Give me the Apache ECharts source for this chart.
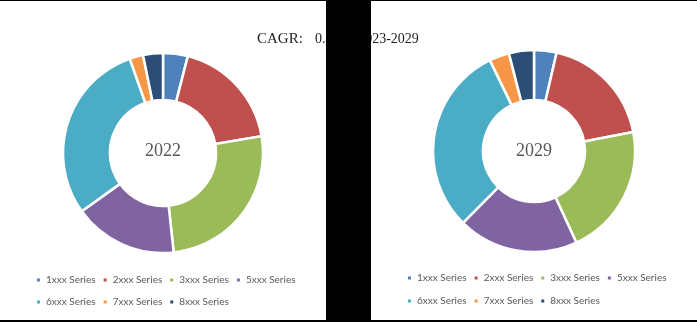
<!DOCTYPE html>
<html>
<head>
<meta charset="utf-8">
<script src="https://cdn.jsdelivr.net/npm/echarts@6/dist/echarts.min.js"></script>
<style>
html,body{margin:0;padding:0;background:#fff;}
#c{width:697px;height:322px;}
</style>
</head>
<body>
<div id="c"></div>
<script>
const categories = ['1xxx Series','2xxx Series','3xxx Series','5xxx Series','6xxx Series','7xxx Series','8xxx Series'];
const values2022 = [4.0, 18.3, 26.0, 16.8, 29.5, 2.2, 3.2];
const values2029 = [3.6, 18.4, 21.1, 19.3, 30.4, 3.2, 4.0];
const colors = ['#4F81BD','#C0504D','#9BBB59','#8064A2','#4BACC6','#F79646','#2C4D75'];
const yearLabels = ['2022','2029'];
const cagrLabel = 'CAGR:';
const cagrValue = '0.45%, 2023-2029';

const chart = echarts.init(document.getElementById('c'), null, {renderer:'canvas'});

function pieSeries(vals, center, radius){
  return {
    type:'pie',
    center: center,
    radius: radius,
    startAngle: 90,
    clockwise: true,
    avoidLabelOverlap:false,
    label:{show:false},
    labelLine:{show:false},
    emphasis:{disabled:true},
    itemStyle:{borderColor:'#fff', borderWidth:2.5},
    data: categories.map((n,i)=>({name:n, value:vals[i]}))
  };
}
const legText = {color:'#595959', fontSize:10, fontFamily:'Lato'};
function leg(left, top, names){
  return {left:left, top:top, orient:'horizontal', itemWidth:5, itemHeight:5, itemGap:6,
    icon:'rect', selectedMode:false, textStyle:legText, data:names, padding:0};
}
const row1 = categories.slice(0,4), row2 = categories.slice(4);

chart.setOption({
  animation:false,
  color: colors,
  legend:[
    leg(35, 275, row1), leg(35, 297, row2),
    leg(406, 273, row1), leg(406, 296, row2)
  ],
  series:[
    pieSeries(values2022, [163,153], [53,100]),
    pieSeries(values2029, [534,151], [51,101])
  ],
  graphic:[
    {type:'text', style:{x:163, y:151, text:yearLabels[0], align:'center', verticalAlign:'middle', fill:'#595959', font:'18px "Liberation Serif"'}},
    {type:'text', style:{x:534, y:151.5, text:yearLabels[1], align:'center', verticalAlign:'middle', fill:'#595959', font:'18px "Liberation Serif"'}},
    {type:'text', z:10, style:{x:257, y:39, text:cagrLabel, align:'left', verticalAlign:'middle', fill:'#222', font:'15px "Liberation Serif"'}},
    {type:'text', z:10, style:{x:315, y:39, text:cagrValue, align:'left', verticalAlign:'middle', fill:'#222', font:'14px "Liberation Serif"'}},
    {type:'rect', z:20, shape:{x:326, y:0, width:45, height:322}, style:{fill:'#000'}},
    {type:'rect', z:20, shape:{x:0, y:0, width:697, height:1}, style:{fill:'#000'}},
    {type:'rect', z:20, shape:{x:0, y:320, width:697, height:2}, style:{fill:'#000'}}
  ]
});
</script>
</body>
</html>
